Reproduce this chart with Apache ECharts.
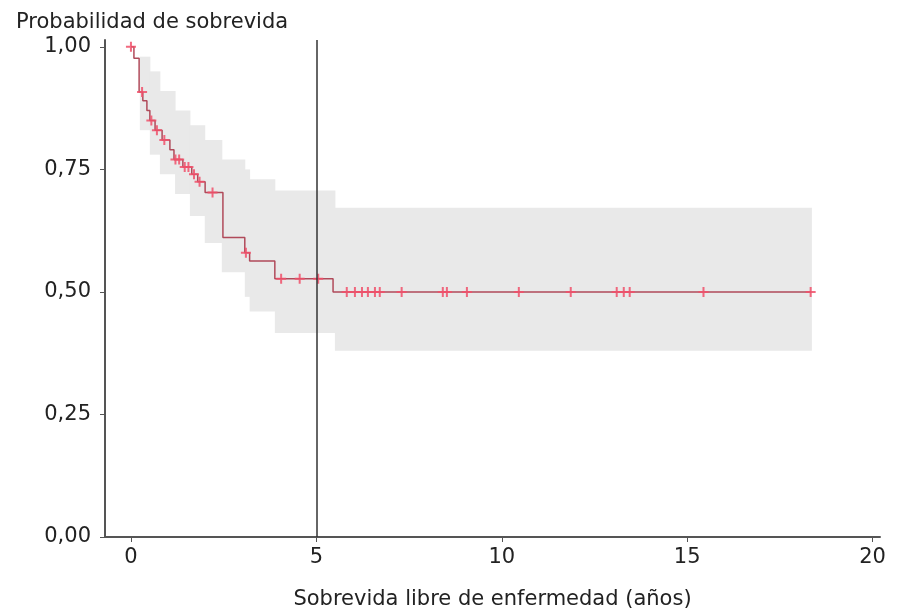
<!DOCTYPE html>
<html><head><meta charset="utf-8">
<script src="https://cdn.jsdelivr.net/npm/echarts@6/dist/echarts.min.js"></script>
<style>html,body{margin:0;padding:0;background:#fff}#c{width:898px;height:615px}</style>
</head><body><div id="c"></div>
<script>
// Confidence band (step function: value holds from x until next x)
const bandX     = [0,    0.24, 0.51, 0.78, 1.19, 1.59, 1.99, 2.45, 3.07, 3.2,  3.88,  5.5,   18.35];
const bandUpper = [1.0,  0.98, 0.95, 0.91, 0.87, 0.84, 0.81, 0.77, 0.75, 0.73, 0.707, 0.672, 0.672];
const bandLower = [1.0,  0.83, 0.78, 0.74, 0.70, 0.655,0.60, 0.54, 0.49, 0.46, 0.416, 0.38,  0.38];
// Kaplan-Meier survival curve
const survX = [0,   0.08,  0.22,  0.32, 0.43, 0.51, 0.65, 0.84, 1.05, 1.16, 1.4,   1.64, 1.8,   2.0,   2.48,  3.07, 3.2,   3.88,  5.45, 18.35];
const survY = [1.0, 0.977, 0.908, 0.89, 0.87, 0.85, 0.83, 0.81, 0.79, 0.77, 0.755, 0.74, 0.725, 0.703, 0.611, 0.58, 0.563, 0.527, 0.50, 0.50];
// Censored observations (times)
const censorX = [0.0, 0.3, 0.55, 0.7, 0.9, 1.2, 1.3, 1.45, 1.55, 1.7, 1.85, 2.2, 3.1,
  4.05, 4.55, 5.05, 5.82, 6.04, 6.23, 6.39, 6.58, 6.71, 7.3, 8.41, 8.52, 9.06, 10.46,
  11.86, 13.1, 13.29, 13.45, 15.44, 18.33];
const xTicks = [0, 5, 10, 15, 20];
const yTicks = [0, 0.25, 0.5, 0.75, 1];
const refLineX = 5;

function survAt(t){ let v = survY[0]; for (let i=0;i<survX.length;i++){ if (survX[i] <= t + 1e-9) v = survY[i]; } return v; }

const bandData = [];
for (let i = 0; i < bandX.length - 1; i++) bandData.push([bandX[i], bandX[i+1], bandLower[i], bandUpper[i]]);
const survData = survX.map((x,i)=>[x, survY[i]]);
const censorData = censorX.map(x=>[x, survAt(x)]);

const FONT = 'DejaVu Sans';
const TXT = '#222';
const FS = 21;
const chart = echarts.init(document.getElementById('c'));
chart.setOption({
  animation: false,
  backgroundColor: '#fff',
  title: { text: 'Probabilidad de sobrevida', left: 11, top: 7,
    textStyle: { fontFamily: FONT, fontSize: FS, fontWeight: 'normal', color: TXT } },
  grid: { left: 105, right: 18, top: 40, bottom: 78 },
  xAxis: {
    type: 'value', min: -0.7, max: 20.2,
    name: 'Sobrevida libre de enfermedad (años)', nameLocation: 'middle', nameGap: 52,
    nameTextStyle: { fontFamily: FONT, fontSize: FS, color: TXT },
    axisLine: { show: true, onZero: false, lineStyle: { color: '#555', width: 2 } },
    axisTick: { show: true, length: 5, customValues: xTicks, lineStyle: { color: '#555' } },
    axisLabel: { customValues: xTicks, fontFamily: FONT, fontSize: FS, color: TXT, margin: 10 },
    splitLine: { show: false }
  },
  yAxis: {
    type: 'value', min: 0, max: 1.014,
    axisLine: { show: true, onZero: false, lineStyle: { color: '#555', width: 2 } },
    axisTick: { show: true, length: 5, customValues: yTicks, lineStyle: { color: '#555' } },
    axisLabel: { customValues: yTicks, fontFamily: FONT, fontSize: FS, color: TXT, margin: 14,
      formatter: v => v.toFixed(2).replace('.', ',') },
    splitLine: { show: false }
  },
  series: [
    { type: 'custom', data: bandData, silent: true, z: 1,
      renderItem: function (params, api) {
        const p0 = api.coord([api.value(0), api.value(3)]);
        const p1 = api.coord([api.value(1), api.value(2)]);
        return { type: 'rect',
          shape: { x: p0[0], y: p0[1], width: p1[0] - p0[0] + 0.5, height: p1[1] - p0[1] },
          style: { fill: '#e9e9e9' } };
      } },
    { type: 'line', step: 'end', data: survData, symbol: 'none',
      lineStyle: { color: '#b04a5a', width: 1.5 }, z: 3,
      markLine: { silent: true, symbol: 'none', label: { show: false },
        lineStyle: { color: '#333', width: 1.5, type: 'solid' },
        data: [{ xAxis: refLineX }] } },
    { type: 'scatter', data: censorData,
      symbol: 'path://M4,0 L6,0 L6,4 L10,4 L10,6 L6,6 L6,10 L4,10 L4,6 L0,6 L0,4 L4,4 Z',
      symbolSize: 10, itemStyle: { color: '#f0506a', opacity: 0.85 }, z: 4 }
  ]
});
</script>
</body></html>
